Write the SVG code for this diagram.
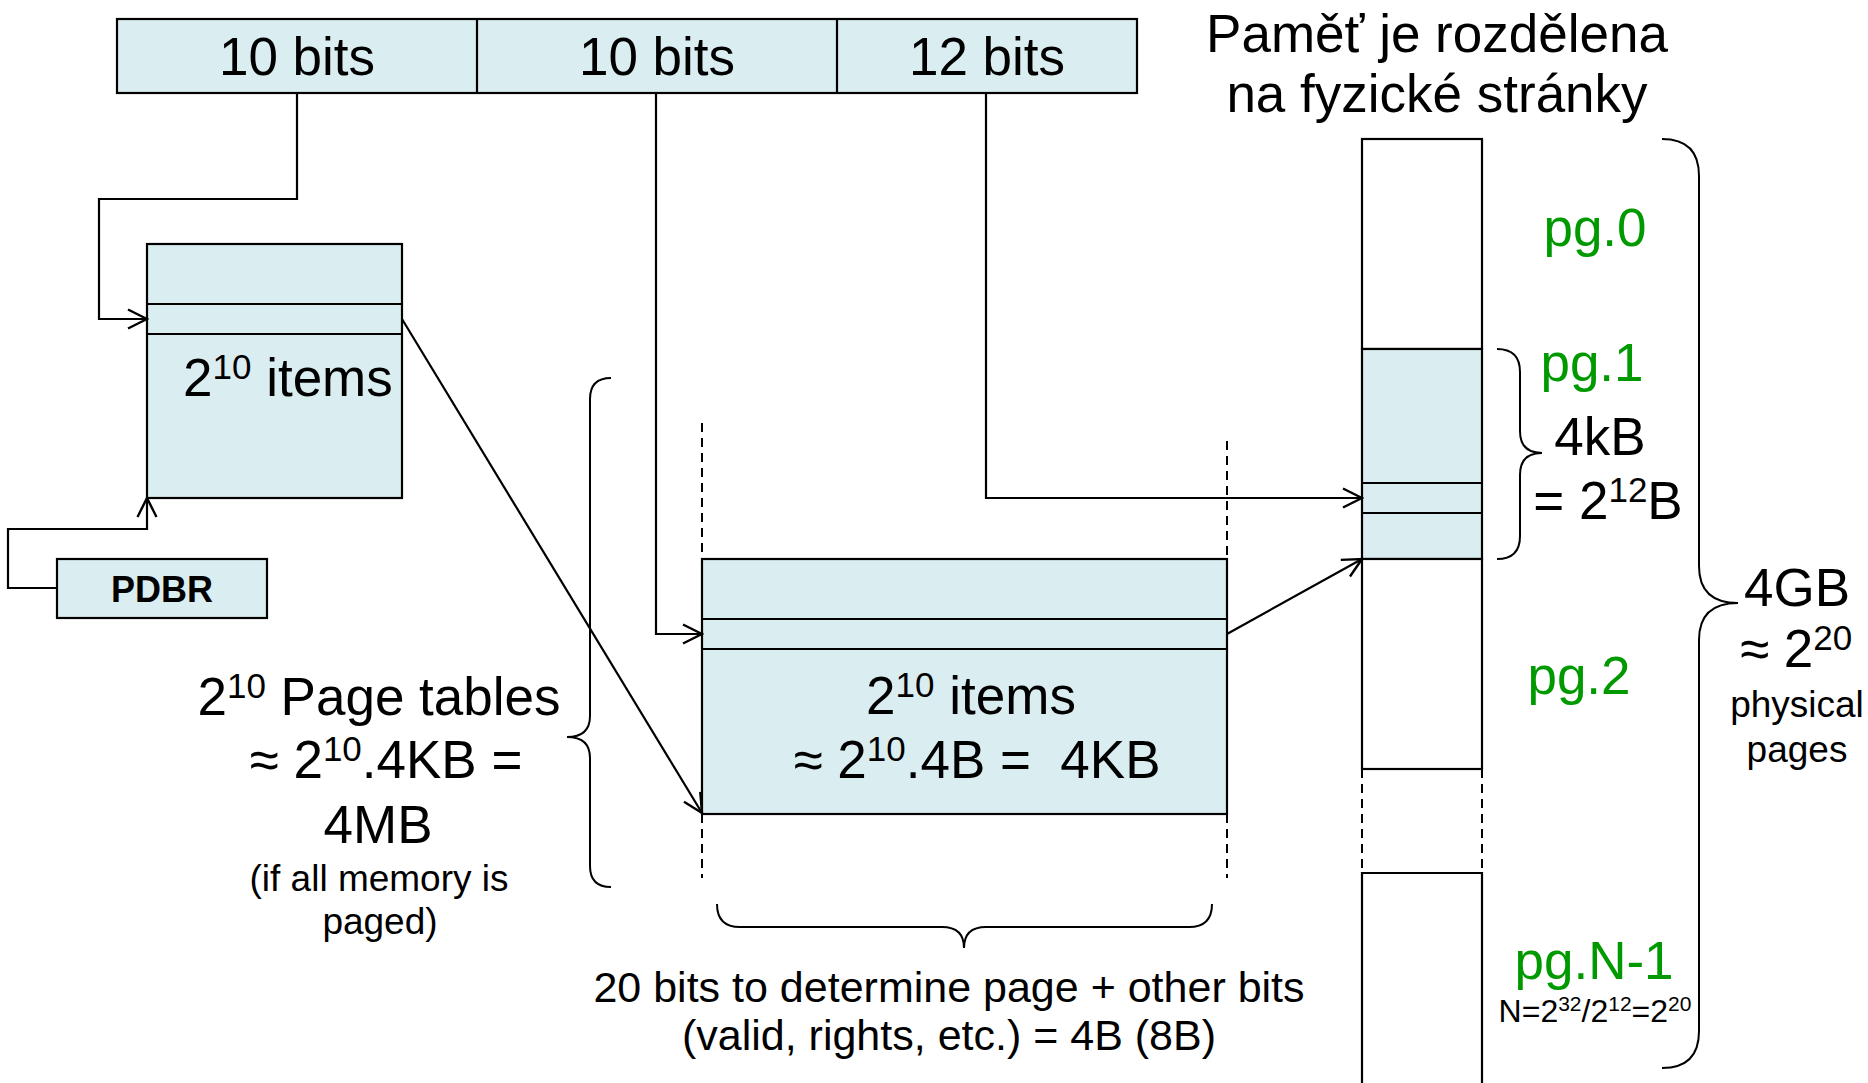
<svg xmlns="http://www.w3.org/2000/svg" width="1868" height="1083" viewBox="0 0 1868 1083">
  <style>
    text { font-family: "Liberation Sans", Arial, sans-serif; fill: #000; }
    .big { font-size: 53px; }
    .mid { font-size: 43px; }
    .small { font-size: 37px; }
    .tiny { font-size: 32px; }
    .green { fill: #009900; }
    .bold { font-weight: bold; }
    .box { fill: #DAEDF0; stroke: #000; stroke-width: 2.2; }
    .white { fill: #fff; stroke: #000; stroke-width: 2.2; }
    .line { fill: none; stroke: #000; stroke-width: 2.2; }
    .dash { fill: none; stroke: #000; stroke-width: 2; stroke-dasharray: 9 6; }
    .brace { fill: none; stroke: #000; stroke-width: 2; }
    .conn { fill: none; stroke: #000; stroke-width: 2.2; marker-end: url(#arrow); }
  </style>
  <defs>
    <marker id="arrow" viewBox="-24 -13 26 26" markerWidth="26" markerHeight="26" refX="0" refY="0" orient="auto" markerUnits="userSpaceOnUse">
      <path d="M-19,-9.5 L0,0 L-19,9.5" fill="none" stroke="#000" stroke-width="2.4"/>
    </marker>
  </defs>

  <rect width="1868" height="1083" fill="#fff"/>

  <!-- 32-bit virtual address split into three fields -->
  <g id="address-bar">
    <rect class="box" x="117" y="19" width="1020" height="74"/>
    <line class="line" x1="477" y1="19" x2="477" y2="93"/>
    <line class="line" x1="837" y1="19" x2="837" y2="93"/>
    <text class="big" x="297" y="75" text-anchor="middle">10 bits</text>
    <text class="big" x="657" y="75" text-anchor="middle">10 bits</text>
    <text class="big" x="987" y="75" text-anchor="middle">12 bits</text>
  </g>

  <!-- page directory -->
  <g id="page-directory">
    <rect class="box" x="147" y="244" width="255" height="254"/>
    <line class="line" x1="147" y1="304" x2="402" y2="304"/>
    <line class="line" x1="147" y1="334" x2="402" y2="334"/>
    <text class="big" x="183" y="396">2<tspan font-size="35" dy="-17">10</tspan><tspan dy="17"> items</tspan></text>
  </g>

  <!-- page directory base register -->
  <g id="pdbr">
    <rect class="box" x="57" y="559" width="210" height="59"/>
    <text class="bold" font-size="36" x="162" y="602" text-anchor="middle">PDBR</text>
  </g>

  <!-- second-level page table -->
  <g id="page-table">
    <line class="dash" x1="702" y1="423" x2="702" y2="559"/>
    <line class="dash" x1="1227" y1="441" x2="1227" y2="559"/>
    <line class="dash" x1="702" y1="814" x2="702" y2="878"/>
    <line class="dash" x1="1227" y1="814" x2="1227" y2="878"/>
    <rect class="box" x="702" y="559" width="525" height="255"/>
    <line class="line" x1="702" y1="619" x2="1227" y2="619"/>
    <line class="line" x1="702" y1="649" x2="1227" y2="649"/>
    <text class="big" x="971" y="714" text-anchor="middle">2<tspan font-size="35" dy="-17">10</tspan><tspan dy="17"> items</tspan></text>
    <text class="big" x="977" y="778" text-anchor="middle" style="white-space:pre">≈ 2<tspan font-size="35" dy="-17">10</tspan><tspan dy="17">.4B =  4KB</tspan></text>
  </g>

  <!-- physical memory split into pages -->
  <g id="memory">
    <rect class="white" x="1362" y="139" width="120" height="210"/>
    <rect class="box" x="1362" y="349" width="120" height="210"/>
    <line class="line" x1="1362" y1="483" x2="1482" y2="483"/>
    <line class="line" x1="1362" y1="513" x2="1482" y2="513"/>
    <rect class="white" x="1362" y="559" width="120" height="210"/>
    <line class="dash" x1="1362" y1="769" x2="1362" y2="873"/>
    <line class="dash" x1="1482" y1="769" x2="1482" y2="873"/>
    <path class="line" d="M1362,1090 V873 H1482 V1090"/>
  </g>

  <!-- connectors -->
  <g id="connectors">
    <path class="conn" d="M297,93 V199 H99 V319 H147"/>
    <path class="conn" d="M656,93 V634 H702"/>
    <path class="conn" d="M986,93 V498 H1362"/>
    <path class="conn" d="M57,588 H8 V529 H147 V498"/>
    <path class="conn" d="M402,319 L702,813"/>
    <path class="conn" d="M1227,634 L1362,559"/>
  </g>

  <!-- braces -->
  <g id="braces">
    <path class="brace" d="M611,378 Q590,378 590,399 V716 Q590,737 567,737 Q590,737 590,758 V866 Q590,887 611,887"/>
    <path class="brace" d="M717,904 Q717,927 740,927 H942 Q964,927 964,948 Q964,927 986,927 H1189 Q1212,927 1212,904"/>
    <path class="brace" d="M1497,349 Q1520,349 1520,372 V431 Q1520,453 1542,453 Q1520,453 1520,475 V536 Q1520,559 1497,559"/>
    <path class="brace" d="M1662,139 Q1699,139 1699,176 V566 Q1699,603 1738,603 Q1699,603 1699,640 V1031 Q1699,1068 1662,1068"/>
  </g>

  <!-- labels -->
  <g id="labels">
    <text class="big" x="1437" y="52" text-anchor="middle">Paměť je rozdělena</text>
    <text class="big" x="1437" y="112" text-anchor="middle">na fyzické stránky</text>

    <text class="big green" x="1595" y="246" text-anchor="middle">pg.0</text>
    <text class="big green" x="1592" y="381" text-anchor="middle">pg.1</text>
    <text class="big" x="1600" y="455" text-anchor="middle">4kB</text>
    <text class="big" x="1608" y="519" text-anchor="middle">= 2<tspan font-size="35" dy="-17">12</tspan><tspan dy="17">B</tspan></text>
    <text class="big green" x="1579" y="694" text-anchor="middle">pg.2</text>
    <text class="big green" x="1594" y="979" text-anchor="middle">pg.N-1</text>
    <text class="tiny" x="1595" y="1022" text-anchor="middle">N=2<tspan font-size="21" dy="-11">32</tspan><tspan dy="11">/2</tspan><tspan font-size="21" dy="-11">12</tspan><tspan dy="11">=2</tspan><tspan font-size="21" dy="-11">20</tspan></text>

    <text class="big" x="1797" y="606" text-anchor="middle">4GB</text>
    <text class="big" x="1796" y="667" text-anchor="middle">≈ 2<tspan font-size="35" dy="-17">20</tspan></text>
    <text class="small" x="1797" y="717" text-anchor="middle">physical</text>
    <text class="small" x="1797" y="762" text-anchor="middle">pages</text>

    <text class="big" x="379" y="715" text-anchor="middle">2<tspan font-size="35" dy="-17">10</tspan><tspan dy="17"> Page tables</tspan></text>
    <text class="big" x="386" y="778" text-anchor="middle">≈ 2<tspan font-size="35" dy="-17">10</tspan><tspan dy="17">.4KB =</tspan></text>
    <text class="big" x="378" y="843" text-anchor="middle">4MB</text>
    <text class="small" x="379" y="891" text-anchor="middle">(if all memory is</text>
    <text class="small" x="380" y="934" text-anchor="middle">paged)</text>

    <text class="mid" x="949" y="1002" text-anchor="middle">20 bits to determine page + other bits</text>
    <text class="mid" x="949" y="1050" text-anchor="middle">(valid, rights, etc.) = 4B (8B)</text>
  </g>
</svg>
